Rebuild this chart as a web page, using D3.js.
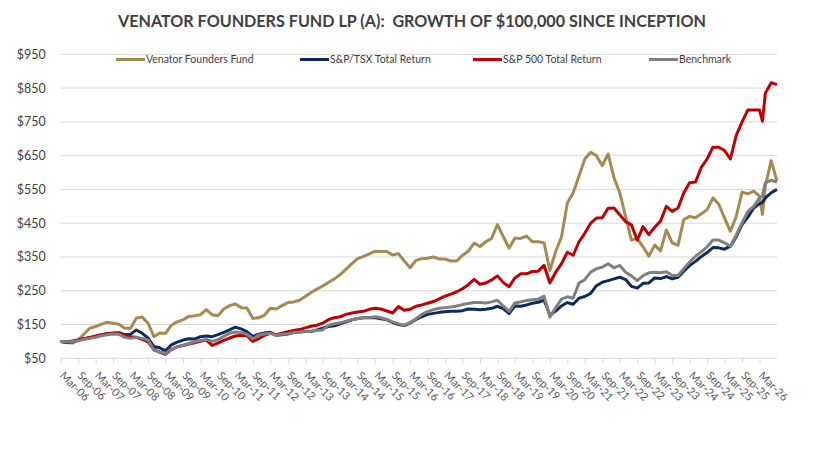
<!DOCTYPE html>
<html>
<head>
<meta charset="utf-8">
<script src="https://cdn.jsdelivr.net/npm/d3@7"></script>
<style>
  body { margin: 0; background: #fff; }
  svg { display: block; font-family: Lato, "Open Sans", sans-serif; }
</style>
</head>
<body>
<div id="chart"></div>
<script>
// month offsets from Mar-06 (mostly every 2 months, extra points near the end)
var months = d3.range(0, 241, 2).concat([241, 242, 244, 246]);

var fund = [
  100, 97, 95, 104, 122, 139, 144, 151, 157, 154,
  151, 139, 139, 169, 172, 154, 114, 125, 124, 148,
  158, 164, 174, 176, 179, 194, 179, 176, 196, 206,
  211, 200, 199, 168, 170, 178, 198, 196, 206, 215,
  217, 222, 233, 245, 255, 264, 275, 285, 298, 314,
  330, 345, 352, 359, 367, 366, 366, 356, 360, 338,
  318, 340, 345, 346, 350, 344, 344, 338, 338, 355,
  367, 391, 381, 395, 405, 446, 410, 376, 406, 405,
  412, 395, 395, 392, 310, 366, 410, 510, 540, 590,
  640, 660, 650, 620, 655, 585, 540, 470, 400, 405,
  380, 352, 385, 368, 430, 392, 385, 461, 470, 466,
  478, 490, 525, 506, 465, 426, 470, 542, 537, 545,
  530, 476, 560, 635, 575
];

var tsx = [
  100, 99, 101, 104, 108, 111, 114, 119, 123, 124,
  126, 120, 121, 134, 124, 110, 85, 81, 72, 90,
  98, 104, 108, 107, 114, 116, 114, 120, 127, 134,
  142, 137, 128, 115, 121, 125, 127, 118, 120, 122,
  126, 128, 129, 129, 134, 139, 144, 146, 152, 158,
  164, 168, 170, 170, 170, 167, 164, 156, 150, 147,
  155, 165, 173, 180, 183, 186, 188, 189, 189, 191,
  196, 195, 194, 195, 198, 204, 197, 182, 205, 204,
  208, 213, 216, 222, 178, 190, 205, 215, 210, 228,
  233, 242, 265, 275, 280, 285, 290, 283, 263, 258,
  272, 273, 288, 286, 292, 285, 290, 308, 325, 337,
  351, 363, 378, 377, 373, 382, 410, 446, 468, 495,
  508, 511, 525, 540, 550
];

var sp500 = [
  100, 97, 98, 104, 108, 112, 116, 120, 123, 125,
  124, 117, 114, 112, 106, 99, 76, 68, 62, 76,
  84, 88, 92, 96, 100, 104, 88, 95, 103, 110,
  116, 118, 117, 100, 108, 118, 124, 120, 124, 129,
  132, 135, 140, 145, 148, 154, 165, 170, 173, 180,
  184, 187, 189, 195, 198, 196, 190, 184, 203, 192,
  195, 204, 208, 213, 218, 226, 234, 240, 247, 256,
  268, 284, 269, 273, 282, 294, 274, 262, 288, 300,
  300, 307, 308, 325, 273, 305, 330, 364, 355, 395,
  420, 450, 465, 466, 494, 495, 475, 455, 445, 400,
  440, 416, 438, 456, 500, 485, 495, 540, 570, 572,
  615, 640, 675, 675, 665, 640, 710, 750, 785, 785,
  785, 752, 835, 866, 860
];

var benchmark = [
  100, 99, 100, 102, 106, 109, 112, 117, 120, 122,
  121, 112, 109, 112, 109, 104, 74, 68, 64, 77,
  84, 89, 94, 99, 103, 106, 100, 105, 115, 124,
  128, 126, 121, 108, 118, 122, 124, 118, 121, 123,
  126, 128, 129, 130, 132, 134, 148, 152, 155, 160,
  164, 168, 170, 171, 173, 170, 165, 158, 152, 148,
  156, 167, 180, 188, 194, 198, 200, 202, 205, 209,
  212, 215, 215, 214, 217, 222, 205, 189, 214, 217,
  221, 223, 225, 234, 172, 200, 225, 232, 228, 273,
  283, 305, 315, 320, 330, 318, 325, 305, 294, 280,
  295, 303, 305, 303, 306, 295, 295, 315, 335, 352,
  365, 380, 400, 400, 392, 382, 415, 451, 485, 500,
  525, 530, 570, 577, 572
];

var seriesNames = ["Venator Founders Fund", "S&P/TSX Total Return", "S&P 500 Total Return", "Benchmark"];
var seriesColors = ["#A68A4E", "#0E2A62", "#C00000", "#808080"];
var seriesValues = [fund, tsx, sp500, benchmark];

var yTicks = [50, 150, 250, 350, 450, 550, 650, 750, 850, 950];
var xTickMonths = d3.range(0, 241, 6);
var xTickLabels = [
  "Mar-06", "Sep-06", "Mar-07", "Sep-07", "Mar-08", "Sep-08", "Mar-09", "Sep-09",
  "Mar-10", "Sep-10", "Mar-11", "Sep-11", "Mar-12", "Sep-12", "Mar-13", "Sep-13",
  "Mar-14", "Sep-14", "Mar-15", "Sep-15", "Mar-16", "Sep-16", "Mar-17", "Sep-17",
  "Mar-18", "Sep-18", "Mar-19", "Sep-19", "Mar-20", "Sep-20", "Mar-21", "Sep-21",
  "Mar-22", "Sep-22", "Mar-23", "Sep-23", "Mar-24", "Sep-24", "Mar-25", "Sep-25", "Mar-26"
];

var width = 830, height = 453;
var plot = {left: 60.7, right: 777, top: 54.3, bottom: 358.3};

var svg = d3.select("#chart").append("svg")
  .attr("width", width)
  .attr("height", height);

var x = d3.scaleLinear().domain([0, 246]).range([plot.left, plot.right]);
var y = d3.scaleLinear().domain([50, 950]).range([plot.bottom, plot.top]);

// title (two spaces after the colon, as in the original)
svg.append("text")
  .attr("x", 412)
  .attr("y", 27)
  .attr("text-anchor", "middle")
  .attr("textLength", 588)
  .attr("lengthAdjust", "spacingAndGlyphs")
  .style("white-space", "pre")
  .style("font-size", "17px")
  .style("font-weight", "bold")
  .style("fill", "#404040")
  .text("VENATOR FOUNDERS FUND LP (A):  GROWTH OF $100,000 SINCE INCEPTION");

// gridlines
svg.append("g")
  .selectAll("line")
  .data(yTicks)
  .enter()
  .append("line")
  .attr("x1", plot.left)
  .attr("x2", plot.right)
  .attr("y1", function(d) { return y(d); })
  .attr("y2", function(d) { return y(d); })
  .attr("stroke", "#d9d9d9")
  .attr("stroke-width", 1);

// y labels
var yAxis = svg.append("g")
  .attr("transform", "translate(" + (plot.left - 12) + ",0)")
  .call(d3.axisLeft(y).tickValues(yTicks).tickSize(0).tickFormat(function(d) { return "$" + d; }));
yAxis.select(".domain").remove();
yAxis.selectAll("text")
  .style("font-family", "Lato, sans-serif")
  .style("font-size", "12.5px")
  .style("fill", "#404040");

// x axis
var xAxis = svg.append("g")
  .attr("transform", "translate(0," + plot.bottom + ")")
  .call(d3.axisBottom(x).tickValues(xTickMonths).tickSize(5).tickFormat(function(d, i) { return xTickLabels[i]; }));
xAxis.select(".domain").remove();
xAxis.selectAll(".tick line").attr("stroke", "#d9d9d9");
xAxis.selectAll("text")
  .attr("text-anchor", "start")
  .attr("dy", null)
  .attr("y", 0)
  .attr("transform", "translate(-2,18) rotate(45)")
  .style("font-family", "Lato, sans-serif")
  .style("font-size", "11px")
  .style("fill", "#595959");

// lines
var line = d3.line()
  .x(function(d, i) { return x(months[i]); })
  .y(function(d) { return y(d); });

svg.append("g")
  .selectAll("path")
  .data(seriesValues)
  .enter()
  .append("path")
  .attr("d", line)
  .attr("fill", "none")
  .attr("stroke", function(d, i) { return seriesColors[i]; })
  .attr("stroke-width", 3)
  .attr("stroke-linejoin", "round");

// legend
var legendX = [116, 300, 473, 649];
var legend = svg.append("g")
  .selectAll("g")
  .data(seriesNames)
  .enter()
  .append("g")
  .attr("transform", function(d, i) { return "translate(" + legendX[i] + ",59.5)"; });
legend.append("line")
  .attr("x1", 0).attr("x2", 29)
  .attr("stroke", function(d, i) { return seriesColors[i]; })
  .attr("stroke-width", 3);
legend.append("text")
  .attr("x", 30)
  .attr("y", 3.5)
  .style("font-size", "10.5px")
  .style("fill", "#404040")
  .text(function(d) { return d; });
</script>
</body>
</html>
